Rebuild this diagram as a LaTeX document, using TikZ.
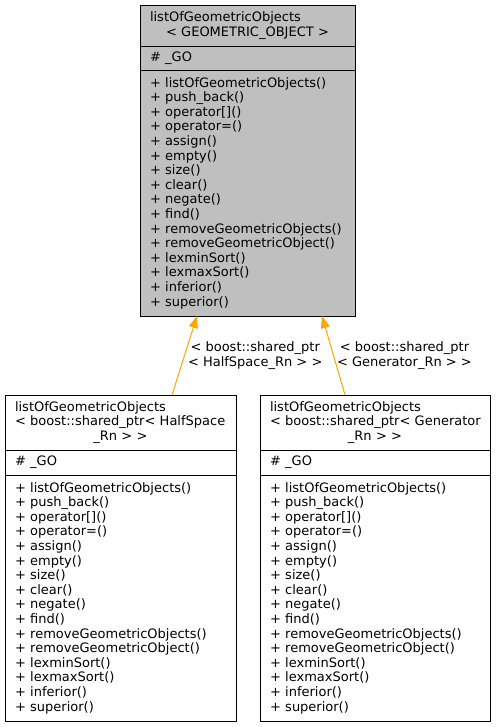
\documentclass[tikz,border=0pt]{standalone}
\usepackage{fontspec}
\setmainfont{DejaVu Sans}
\usetikzlibrary{arrows.meta, positioning}
\definecolor{ClassGray}{HTML}{BFBFBF}
\definecolor{TmplOrange}{HTML}{FFA500}

\newcommand{\centredline}[1]{\hspace*{\fill}#1\hspace*{\fill}\null}
\newcommand{\gomethods}{+ listOfGeometricObjects()\\+ push\_back()\\
  + operator[]()\\+ operator=()\\+ assign()\\+ empty()\\+ size()\\
  + clear()\\+ negate()\\+ find()\\+ removeGeometricObjects()\\
  + removeGeometricObject()\\+ lexminSort()\\+ lexmaxSort()\\
  + inferior()\\+ superior()}

\tikzset{
  umlpart/.style={draw=black, line width=0.8pt, inner xsep=10pt,
    inner ysep=2pt, outer sep=0pt, align=left},
  tmplarrow/.style={TmplOrange, line width=1pt,
    -{Triangle[length=12pt, width=9pt]}},
  edgelabel/.style={anchor=west, align=center, inner sep=3pt, text=black}
}

\begin{document}
\begin{tikzpicture}[x=1pt, y=-1pt, font=\fontsize{13pt}{14.6pt}\selectfont]
  \useasboundingbox (0,0) rectangle (496,727);
  % template class
  \node[umlpart, fill=ClassGray, text width=195pt, minimum height=41pt,
        anchor=north west] (baseTitle) at (140,5)
    {listOfGeometricObjects\\\centredline{< GEOMETRIC\_OBJECT >}};
  \node[umlpart, fill=ClassGray, text width=195pt, minimum height=24pt,
        below=0pt of baseTitle] (baseAttrs) {\# \_GO};
  \node[umlpart, fill=ClassGray, text width=195pt, minimum height=246pt,
        below=0pt of baseAttrs] (baseMethods) {\gomethods};
  % HalfSpace instance
  \node[umlpart, fill=white, text width=211pt, minimum height=55pt,
        anchor=north west] (halfTitle) at (5,395)
    {listOfGeometricObjects\\\mbox{< boost::shared\_ptr< HalfSpace}\\\centredline{\_Rn > >}};
  \node[umlpart, fill=white, text width=211pt, minimum height=25pt,
        below=0pt of halfTitle] (halfAttrs) {\# \_GO};
  \node[umlpart, fill=white, text width=211pt, minimum height=246pt,
        below=0pt of halfAttrs] (halfMethods) {\gomethods};
  % Generator instance
  \node[umlpart, fill=white, text width=210pt, minimum height=55pt,
        anchor=north west] (genTitle) at (260,395)
    {listOfGeometricObjects\\\mbox{< boost::shared\_ptr< Generator}\\\centredline{\_Rn > >}};
  \node[umlpart, fill=white, text width=210pt, minimum height=25pt,
        below=0pt of genTitle] (genAttrs) {\# \_GO};
  \node[umlpart, fill=white, text width=210pt, minimum height=246pt,
        below=0pt of genAttrs] (genMethods) {\gomethods};
  % instantiation edges
  \draw[tmplarrow] ([xshift=51.5pt]halfTitle.north)
    -- node[edgelabel] (halfLabel) {< boost::shared\_ptr\\< HalfSpace\_Rn > >}
    ([xshift=-50.5pt]baseMethods.south);
  \draw[tmplarrow] ([xshift=-30pt]genTitle.north)
    -- node[edgelabel] (genLabel) {< boost::shared\_ptr\\< Generator\_Rn > >}
    ([xshift=74.5pt]baseMethods.south);
\end{tikzpicture}
\end{document}
